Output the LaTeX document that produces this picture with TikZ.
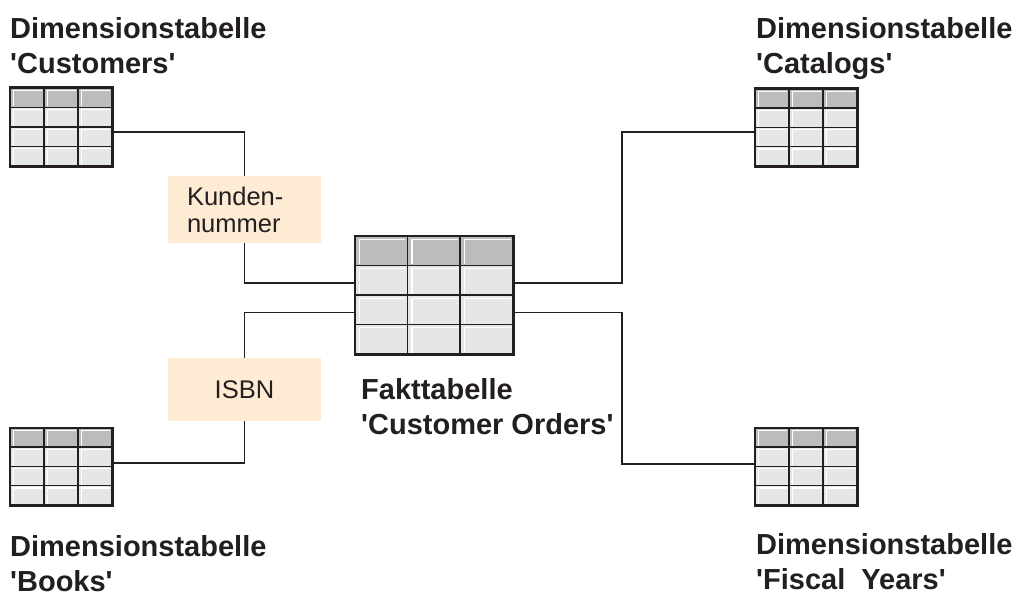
\documentclass[tikz,border=0pt]{standalone}
\usepackage{fontspec}
\setmainfont{Liberation Sans}
\usetikzlibrary{calc}

\definecolor{gridline}{HTML}{231F20}
\definecolor{headcell}{HTML}{BBBCBE}
\definecolor{bodycell}{HTML}{E5E6E6}
\definecolor{keyfill}{HTML}{FDEBD3}

% straight typewriter-style quote
\newcommand\sq{\textquotesingle}

\tikzset{
  link/.style={draw=gridline, line width=1.6pt},
  caption/.style={anchor=north west, inner sep=0pt, align=left,
    font=\fontsize{29}{35}\selectfont\bfseries, text=gridline},
  keybox/.style={fill=keyfill, inner sep=0pt, minimum width=153pt,
    font=\fontsize{25.5}{27}\selectfont, text=gridline},
  tableanchor/.style={rectangle, inner sep=0pt}
}

% #1 name, #2 centre x, #3 centre y, #4 width, #5 height, #6 bevel inset
\newcommand\dbgrid[6]{%
  \node[tableanchor, minimum width=#4pt, minimum height=#5pt] (#1) at (#2,#3) {};
  \pgfmathsetmacro\cw{#4/3}
  \pgfmathsetmacro\rh{#5/4}
  \foreach \i in {0,1,2}{
    \foreach \j in {0,1,2,3}{
      \pgfmathsetmacro\cx{\i*\cw}
      \pgfmathsetmacro\cy{\j*\rh}
      \ifnum\j=0 \def\cellcol{headcell}\else\def\cellcol{bodycell}\fi
      \fill[\cellcol] ($(#1.north west)+(\cx,\cy)$) rectangle ++(\cw,\rh);
      \draw[white, line width=1.3pt]
        ($(#1.north west)+(\cx,\cy)+(#6+1,\rh-1)$)
        -- ($(#1.north west)+(\cx,\cy)+(#6+1,#6)$)
        -- ($(#1.north west)+(\cx,\cy)+(\cw-2,#6)$);
    }
  }
  \foreach \i in {1,2}{
    \draw[gridline, line width=1.4pt]
      ($(#1.north west)+(\i*\cw,0)$) -- ($(#1.south west)+(\i*\cw,0)$);
  }
  \foreach \j in {1,2,3}{
    \draw[gridline, line width=1.4pt]
      ($(#1.north west)+(0,\j*\rh)$) -- ($(#1.north east)+(0,\j*\rh)$);
  }
  \draw[gridline, line width=2.6pt] (#1.north west) rectangle (#1.south east);
}

\begin{document}
\begin{tikzpicture}[x=1pt, y=-1pt]
  \useasboundingbox (0,0) rectangle (1015,594);

  % dimension tables and the fact table
  \dbgrid{cust}{61}{127}{102}{78}{2.5}
  \dbgrid{books}{61}{466.5}{102}{77}{2.5}
  \dbgrid{cat}{806}{127.5}{102}{77}{2.5}
  \dbgrid{fisc}{806}{466.5}{102}{77}{2.5}
  \dbgrid{fact}{434}{295}{158}{118}{3.5}

  % key labels
  \node[keybox, minimum height=67pt, text width=115pt, inner xsep=19pt, align=left]
    (kund) at (244.5,209.5) {Kunden-\\nummer};
  \node[keybox, minimum height=63pt, align=center] (isbn) at (244.5,389.5) {ISBN};

  % connectors
  \draw[link] ($(cust.east)+(0,5)$) -| (kund.north);
  \draw[link] (kund.south) |- ($(fact.west)+(0,-12)$);
  \draw[link] ($(fact.west)+(0,17.5)$) -| (isbn.north);
  \draw[link] (isbn.south) |- ($(books.east)+(0,-3.5)$);
  \draw[link] ($(fact.east)+(0,-12)$) -- ++(109,0) |- ($(cat.west)+(0,4.5)$);
  \draw[link] ($(fact.east)+(0,17.5)$) -- ++(109,0) |- ($(fisc.west)+(0,-2.5)$);

  % captions
  \node[caption] (capcust) at (10,17) {Dimensionstabelle\\\sq Customers\sq};
  \node[caption] (capcat) at (756,17) {Dimensionstabelle\\\sq Catalogs\sq};
  \node[caption] (capbooks) at (10,535) {Dimensionstabelle\\\sq Books\sq};
  \node[caption] (capfisc) at (756,533) {Dimensionstabelle\\\sq Fiscal\ \ Years\sq};
  \node[caption] (capfact) at (361,378) {Fakttabelle\\\sq Customer Orders\sq};
\end{tikzpicture}
\end{document}
